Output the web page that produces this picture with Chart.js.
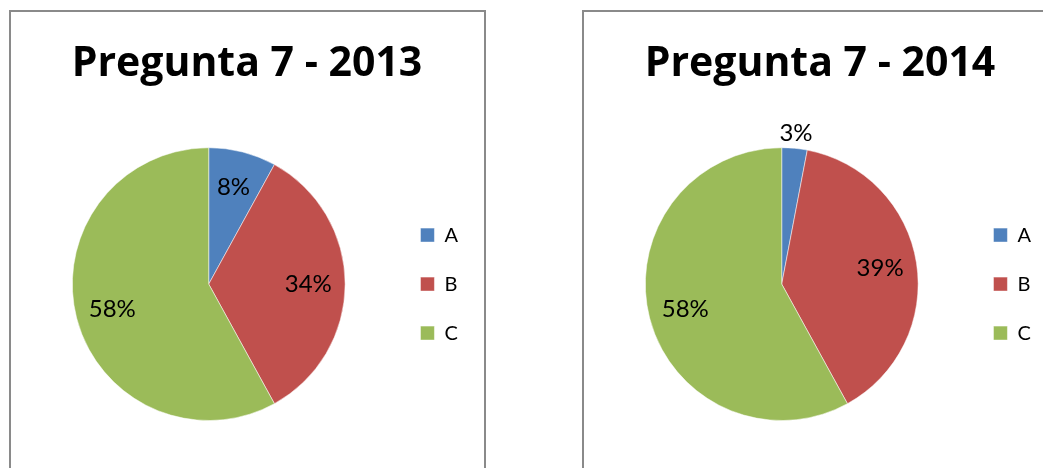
<!DOCTYPE html>
<html>
<head>
<meta charset="utf-8">
<script src="https://cdn.jsdelivr.net/npm/chart.js@4.4.1/dist/chart.umd.min.js"></script>
<style>
  html, body { margin: 0; padding: 0; background: #fff; overflow: hidden; }
  body { width: 1043px; height: 468px; position: relative; }
  .panel {
    position: absolute;
    top: 10px;
    width: 473px;
    height: 470px;
    border: 2px solid #8a8a8a;
    background: #fff;
  }
  .panel canvas { display: block; }
</style>
</head>
<body>
<div class="panel" style="left:9px"><canvas id="chart2013" width="473" height="470"></canvas></div>
<div class="panel" style="left:582px"><canvas id="chart2014" width="473" height="470"></canvas></div>
<script>
const categories = ['A', 'B', 'C'];
const values2013 = [8, 34, 58];
const values2014 = [3, 39, 58];
const sliceColors = ['#4F81BD', '#C0504D', '#9BBB59'];

// percentage labels on the slices, moved outside when the slice is too thin
const pieLabels = {
  id: 'pieLabels',
  afterDatasetsDraw(chart) {
    const ctx = chart.ctx;
    const data = chart.data.datasets[0].data;
    const total = data.reduce((a, b) => a + b, 0);
    ctx.save();
    ctx.font = '24px Lato';
    ctx.fillStyle = '#000';
    ctx.textAlign = 'center';
    ctx.textBaseline = 'middle';
    chart.getDatasetMeta(0).data.forEach((arc, i) => {
      const pct = Math.round(data[i] / total * 100);
      const mid = (arc.startAngle + arc.endAngle) / 2;
      const dist = pct < 5 ? arc.outerRadius + 15 : arc.outerRadius * 0.73;
      ctx.fillText(pct + '%', arc.x + Math.cos(mid) * dist, arc.y + Math.sin(mid) * dist);
    });
    ctx.restore();
  }
};

function makePie(id, year, values) {
  new Chart(document.getElementById(id), {
    type: 'pie',
    data: {
      labels: categories,
      datasets: [{
        data: values,
        backgroundColor: sliceColors,
        borderColor: 'rgba(255,255,255,0.5)',
        borderWidth: 1
      }]
    },
    options: {
      responsive: false,
      animation: false,
      layout: { padding: { left: 15, right: 16, top: 0, bottom: 61 } },
      plugins: {
        title: {
          display: true,
          text: 'Pregunta 7 - ' + year,
          color: '#000',
          font: { family: 'Open Sans', size: 41, weight: 'bold', lineHeight: 1.2 },
          padding: { top: 28, bottom: 58 }
        },
        legend: {
          position: 'right',
          fullSize: false,
          labels: {
            boxWidth: 14,
            boxHeight: 14,
            padding: 29,
            color: '#000',
            font: { family: 'Lato', size: 20 }
          }
        },
        tooltip: { enabled: false }
      }
    },
    plugins: [pieLabels]
  });
}

makePie('chart2013', '2013', values2013);
makePie('chart2014', '2014', values2014);
</script>
</body>
</html>
